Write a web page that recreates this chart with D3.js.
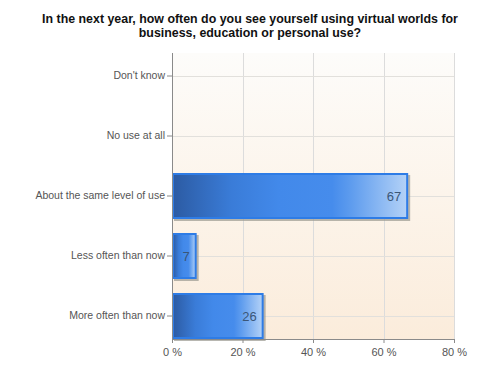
<!DOCTYPE html>
<html>
<head>
<meta charset="utf-8">
<script src="https://cdn.jsdelivr.net/npm/d3@7"></script>
<style>
  body { margin: 0; background: #fff; }
  text { font-family: "Liberation Sans", Arial, sans-serif; }
</style>
</head>
<body>
<script>
var categories = ["Don't know", "No use at all", "About the same level of use", "Less often than now", "More often than now"];
var values = [0, 0, 67, 7, 26];
var xTicks = [0, 20, 40, 60, 80];
var titleLines = ["In the next year, how often do you see yourself using virtual worlds for", "business, education or personal use?"];

var width = 500, height = 375;
var plotLeft = 172, plotRight = 454, plotTop = 53, plotBottom = 339;

var svg = d3.select("body").append("svg")
    .attr("width", width)
    .attr("height", height);

var defs = svg.append("defs");

var bg = defs.append("linearGradient").attr("id", "bg")
    .attr("x1", 0).attr("y1", 0).attr("x2", 0).attr("y2", 1);
bg.append("stop").attr("offset", "0%").attr("stop-color", "#fdfcfa");
bg.append("stop").attr("offset", "100%").attr("stop-color", "#fbecdb");

var barGrad = defs.append("linearGradient").attr("id", "barGrad")
    .attr("x1", 0).attr("y1", 0).attr("x2", 1).attr("y2", 0);
[["0%", "#2c5ba3"], ["25%", "#3a7cd8"], ["45%", "#4289ea"], ["68%", "#468cec"],
 ["76%", "#5e9cee"], ["100%", "#b4d2f7"]].forEach(function(s) {
  barGrad.append("stop").attr("offset", s[0]).attr("stop-color", s[1]);
});

var x = d3.scaleLinear().domain([0, 80]).range([plotLeft, plotRight]);
var y = d3.scaleBand().domain(categories).range([plotTop, plotBottom])
    .paddingInner(14 / 60).paddingOuter(0);

// plot background
svg.append("rect")
    .attr("x", plotLeft).attr("y", plotTop)
    .attr("width", plotRight - plotLeft).attr("height", plotBottom - plotTop)
    .attr("fill", "url(#bg)");

// grid
svg.append("g").selectAll("line")
    .data(xTicks.slice(1))
    .enter().append("line")
    .attr("x1", function(d) { return Math.round(x(d)) + 0.5; })
    .attr("x2", function(d) { return Math.round(x(d)) + 0.5; })
    .attr("y1", plotTop).attr("y2", plotBottom)
    .attr("stroke", "#dcdcdc").attr("stroke-width", 1);

svg.append("g").selectAll("line")
    .data(categories)
    .enter().append("line")
    .attr("x1", plotLeft).attr("x2", plotRight)
    .attr("y1", function(d) { return Math.round(y(d) + y.bandwidth() / 2) + 0.5; })
    .attr("y2", function(d) { return Math.round(y(d) + y.bandwidth() / 2) + 0.5; })
    .attr("stroke", "#e2e0dc").attr("stroke-width", 1);

// bars
var bars = svg.append("g").selectAll("g")
    .data(categories.map(function(c, i) { return {name: c, value: values[i]}; })
      .filter(function(d) { return d.value > 0; }))
    .enter().append("g");

bars.append("rect")
    .attr("x", plotLeft + 2)
    .attr("y", function(d) { return y(d.name) + 2; })
    .attr("width", function(d) { return x(d.value) - plotLeft; })
    .attr("height", y.bandwidth())
    .attr("fill", "#9a9890").attr("opacity", 0.7);

bars.append("rect")
    .attr("x", plotLeft + 1)
    .attr("y", function(d) { return y(d.name) + 1; })
    .attr("width", function(d) { return x(d.value) - plotLeft - 2; })
    .attr("height", y.bandwidth() - 2)
    .attr("fill", "url(#barGrad)")
    .attr("stroke", "#2e7ce6").attr("stroke-width", 2);

bars.append("text")
    .attr("x", function(d) { return x(d.value) - 7; })
    .attr("y", function(d) { return y(d.name) + y.bandwidth() / 2 + 5; })
    .attr("text-anchor", "end")
    .attr("font-size", 13)
    .attr("fill", "#3b5677")
    .text(function(d) { return d.value; });

// axes
var yAxis = svg.append("g")
    .attr("transform", "translate(" + plotLeft + ",0)")
    .call(d3.axisLeft(y).tickSize(5).tickPadding(2));
yAxis.select(".domain").attr("stroke", "#8a8a8a").attr("d", "M0.5," + plotTop + "V" + plotBottom);
yAxis.selectAll(".tick line").attr("stroke", "#8a8a8a");
yAxis.selectAll(".tick text").attr("font-size", 10.5).attr("fill", "#555")
    .style("font-family", "'Liberation Sans', Arial, sans-serif");

var xAxis = svg.append("g")
    .attr("transform", "translate(0," + plotBottom + ")")
    .call(d3.axisBottom(x).tickValues(xTicks).tickSize(4).tickPadding(5)
      .tickFormat(function(d) { return d + " %"; }));
xAxis.select(".domain").attr("stroke", "#8a8a8a").attr("d", "M" + plotLeft + ",0.5H" + plotRight);
xAxis.selectAll(".tick line").attr("stroke", "#8a8a8a");
xAxis.selectAll(".tick text").attr("font-size", 11).attr("fill", "#555")
    .style("font-family", "'Liberation Sans', Arial, sans-serif");

// title
svg.append("g").selectAll("text")
    .data(titleLines)
    .enter().append("text")
    .attr("x", 250)
    .attr("y", function(d, i) { return 23 + i * 14; })
    .attr("text-anchor", "middle")
    .attr("font-size", 12.4)
    .attr("font-weight", "bold")
    .attr("fill", "#111")
    .text(function(d) { return d; });
</script>
</body>
</html>
